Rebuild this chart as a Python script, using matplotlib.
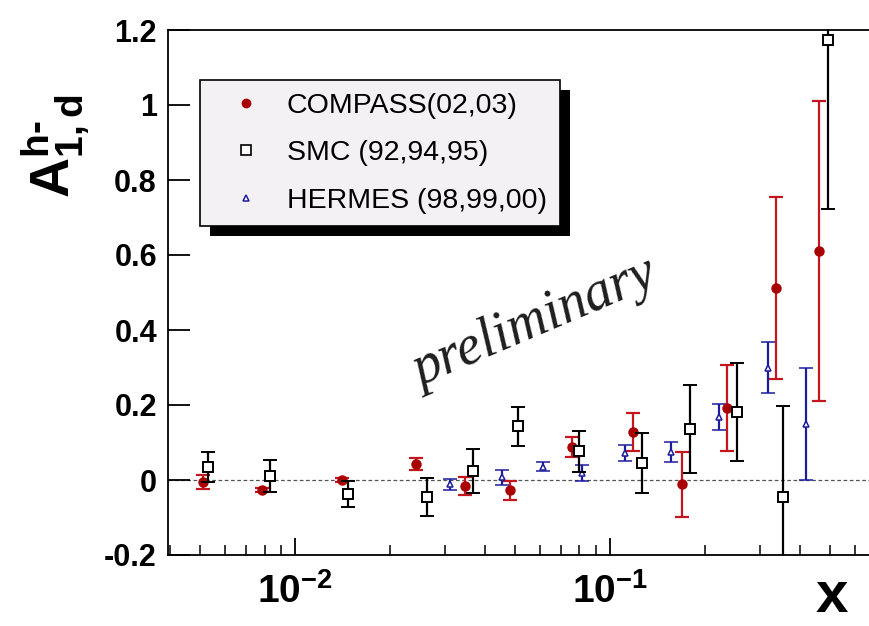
import matplotlib
matplotlib.use('Agg')
import matplotlib.pyplot as plt
from matplotlib.lines import Line2D
from matplotlib.patches import Rectangle
from matplotlib.ticker import LogLocator, NullFormatter
import matplotlib.transforms as mtransforms

plt.rcParams['font.family'] = ['Liberation Sans', 'DejaVu Sans']
plt.rcParams['mathtext.fontset'] = 'custom'
plt.rcParams['mathtext.bf'] = 'Liberation Sans:bold'
plt.rcParams['mathtext.rm'] = 'Liberation Sans:bold'

# COMPASS (02,03)
compass_x = [0.00511, 0.00786, 0.0141, 0.0242, 0.0347, 0.0482, 0.0757, 0.118, 0.1695, 0.235, 0.336, 0.46]
compass_y = [-0.005, -0.027, 0.0, 0.043, -0.016, -0.027, 0.088, 0.128, -0.011, 0.192, 0.512, 0.611]
compass_err = [0.018, 0.006, 0.006, 0.015, 0.025, 0.025, 0.027, 0.05, 0.087, 0.115, 0.243, 0.40]

# SMC (92,94,95)
smc_x = [0.0053, 0.00833, 0.0147, 0.0262, 0.0367, 0.051, 0.0798, 0.1265, 0.1795, 0.253, 0.354, 0.492]
smc_y = [0.035, 0.011, -0.037, -0.045, 0.024, 0.144, 0.077, 0.045, 0.136, 0.181, -0.045, 1.173]
smc_err = [0.04, 0.042, 0.035, 0.05, 0.058, 0.052, 0.055, 0.08, 0.117, 0.13, 0.242, 0.45]

# HERMES (98,99,00)
hermes_x = [0.031, 0.0454, 0.0612, 0.0815, 0.1117, 0.156, 0.222, 0.318, 0.419]
hermes_y = [-0.011, 0.008, 0.035, 0.019, 0.072, 0.075, 0.168, 0.299, 0.149]
hermes_err = [0.015, 0.02, 0.012, 0.022, 0.022, 0.027, 0.034, 0.068, 0.15]

y_ticks = [-0.2, 0, 0.2, 0.4, 0.6, 0.8, 1, 1.2]
y_ticklabels = ['-0.2', '0', '0.2', '0.4', '0.6', '0.8', '1', '1.2']
x_ticks = [0.01, 0.1]
x_ticklabels = [r'$\mathbf{10^{-2}}$', r'$\mathbf{10^{-1}}$']

RED = '#a80000'
RED_BAR = '#c4161e'
BLUE = '#1c1c9c'

fig = plt.figure(figsize=(8.7, 6.26), dpi=100)
ax = fig.add_axes([168/870, 71/626, 702/870, 525/626])

ax.set_xscale('log')
ax.set_xlim(0.00395, 0.669)
ax.set_ylim(-0.2, 1.2)

# zero line
ax.axhline(0, color='#555555', ls=(0, (3, 2)), lw=0.9, zorder=1)

ax.errorbar(compass_x, compass_y, yerr=compass_err, fmt='o', ms=6.5,
            color=RED, ecolor=RED_BAR, elinewidth=1.6, capsize=5, capthick=1.6, zorder=3)
ax.errorbar(smc_x, smc_y, yerr=smc_err, fmt='s', ms=7.5, mfc='white', mec='black', mew=1.4,
            color='black', ecolor='black', elinewidth=1.6, capsize=5, capthick=1.6, zorder=4)
ax.errorbar(hermes_x, hermes_y, yerr=hermes_err, fmt='^', ms=5, mfc='white', mec=BLUE, mew=1.1,
            color=BLUE, ecolor=BLUE, elinewidth=1.6, capsize=5, capthick=1.6, zorder=3)

# axes styling
ax.spines['right'].set_visible(False)
for s in ['left', 'bottom', 'top']:
    ax.spines[s].set_linewidth(1.3)
ax.set_yticks(y_ticks)
ax.set_yticklabels(y_ticklabels, fontsize=22, fontweight='bold')
ax.set_xticks(x_ticks)
ax.set_xticklabels(x_ticklabels, fontsize=28)
ax.xaxis.set_minor_locator(LogLocator(base=10, subs=range(2, 10)))
ax.xaxis.set_minor_formatter(NullFormatter())
ax.tick_params(axis='y', which='major', direction='in', length=16, width=1.3, pad=8,
               left=True, right=False)
ax.tick_params(axis='x', which='major', direction='in', length=12, width=1.3, pad=13,
               top=False)
ax.tick_params(axis='x', which='minor', direction='in', length=7, width=1.1, top=False)

# legend
handles = [
    Line2D([], [], ls='none', marker='o', ms=6, color=RED),
    Line2D([], [], ls='none', marker='s', ms=6.5, mfc='white', mec='black', mew=1.2),
    Line2D([], [], ls='none', marker='^', ms=5, mfc='white', mec=BLUE, mew=1.1),
]
labels = ['COMPASS(02,03)', 'SMC (92,94,95)', 'HERMES (98,99,00)']
leg = ax.legend(handles, labels, loc='upper left', bbox_to_anchor=(32/702, 475/525),
                borderaxespad=0, fontsize=20.5, frameon=True, fancybox=False,
                framealpha=1, facecolor='#f4f1f5', edgecolor='black',
                handlelength=2.3, handletextpad=0.3, borderpad=0.45, labelspacing=0.75)
leg.get_frame().set_linewidth(1.2)
leg.set_zorder(6)

fig.canvas.draw()
bb = leg.get_window_extent()
shadow = Rectangle((bb.x0 + 10, bb.y0 - 10), bb.width, bb.height, facecolor='black',
                   edgecolor='none', transform=mtransforms.IdentityTransform(),
                   zorder=5.5, clip_on=False)
ax.add_artist(shadow)

# watermark
ax.text((540 - 168) / 702, (555 - 336) / 525, 'preliminary', transform=ax.transAxes,
        fontfamily='Liberation Serif', style='italic', fontsize=40, color='#1e1e1e',
        rotation=23, rotation_mode='anchor', ha='center', va='baseline', zorder=2)

# axis labels
fig.text(56/870, 1 - 146/626, r'$\mathbf{A^{h\text{-}}_{1,d}}$', rotation=90,
         ha='center', va='center', fontsize=40)
fig.text(832/870, 1 - 597/626, 'x', ha='center', va='center', fontsize=42, fontweight='bold')

fig.savefig('out.png', dpi=100)
